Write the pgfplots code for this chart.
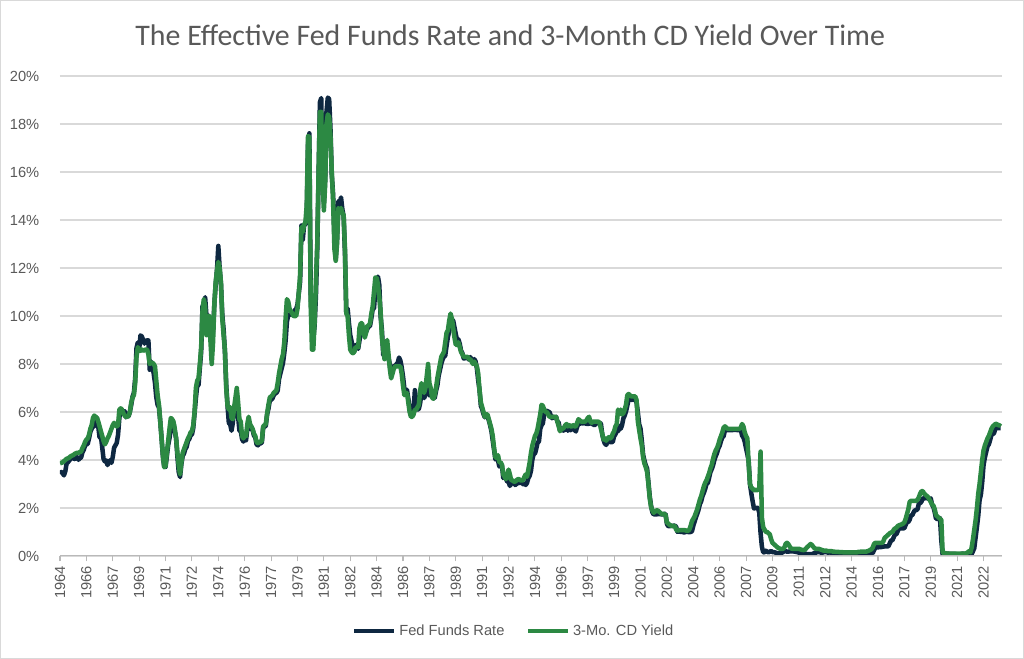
\documentclass[border=0pt]{standalone}
\usepackage{pgfplots}
\pgfplotsset{compat=1.18}
\usepackage{pgfplotstable}
\usepackage{fontspec}
\setmainfont{Liberation Sans}
\newfontfamily\titlefont{Carlito}
\definecolor{fedc}{HTML}{0E2841}
\definecolor{cdc}{HTML}{2C8943}
\definecolor{txt}{HTML}{595959}
\definecolor{gridc}{HTML}{D9D9D9}

% Effective Fed Funds Rate, monthly, Jul 1964 - Dec 2023
\pgfplotstableread[row sep=\\]{
v\\
3.42\\ 3.50\\ 3.45\\ 3.36\\ 3.52\\ 3.85\\
3.90\\ 3.98\\ 4.04\\ 4.09\\ 4.10\\ 4.04\\ 4.09\\ 4.12\\ 4.01\\ 4.08\\ 4.10\\ 4.32\\
4.42\\ 4.60\\ 4.65\\ 4.67\\ 4.90\\ 5.17\\ 5.30\\ 5.53\\ 5.40\\ 5.53\\ 5.76\\ 5.40\\
4.94\\ 5.00\\ 4.53\\ 4.05\\ 3.94\\ 3.98\\ 3.79\\ 3.90\\ 3.99\\ 3.88\\ 4.13\\ 4.51\\
4.61\\ 4.71\\ 5.05\\ 5.76\\ 6.11\\ 6.07\\ 6.02\\ 6.03\\ 5.78\\ 5.91\\ 5.82\\ 6.02\\
6.30\\ 6.64\\ 6.79\\ 7.41\\ 8.67\\ 8.90\\ 8.61\\ 9.19\\ 9.15\\ 9.00\\ 8.85\\ 8.97\\
8.98\\ 8.98\\ 7.76\\ 8.10\\ 7.95\\ 7.61\\ 7.21\\ 6.61\\ 6.29\\ 6.20\\ 5.60\\ 4.90\\
4.14\\ 3.72\\ 3.71\\ 4.16\\ 4.63\\ 4.91\\ 5.31\\ 5.56\\ 5.55\\ 5.20\\ 4.91\\ 4.14\\
3.50\\ 3.29\\ 3.83\\ 4.17\\ 4.27\\ 4.46\\ 4.55\\ 4.80\\ 4.87\\ 5.04\\ 5.06\\ 5.33\\
5.94\\ 6.58\\ 7.09\\ 7.12\\ 7.84\\ 8.49\\ 10.40\\ 10.50\\ 10.78\\ 10.01\\ 10.03\\ 9.95\\
9.65\\ 8.97\\ 9.35\\ 10.51\\ 11.31\\ 11.93\\ 12.92\\ 12.01\\ 11.34\\ 10.06\\ 9.45\\ 8.53\\
7.13\\ 6.24\\ 5.54\\ 5.49\\ 5.22\\ 5.55\\ 6.10\\ 6.14\\ 6.24\\ 5.82\\ 5.22\\ 5.20\\
4.87\\ 4.77\\ 4.84\\ 4.82\\ 5.29\\ 5.48\\ 5.31\\ 5.29\\ 5.25\\ 5.02\\ 4.95\\ 4.65\\
4.61\\ 4.68\\ 4.69\\ 4.73\\ 5.35\\ 5.39\\ 5.42\\ 5.90\\ 6.14\\ 6.47\\ 6.51\\ 6.56\\
6.70\\ 6.78\\ 6.79\\ 6.89\\ 7.36\\ 7.60\\ 7.81\\ 8.04\\ 8.45\\ 8.96\\ 9.76\\ 10.03\\
10.07\\ 10.06\\ 10.09\\ 10.01\\ 10.24\\ 10.29\\ 10.47\\ 10.94\\ 11.43\\ 13.77\\ 13.18\\ 13.78\\
13.82\\ 14.13\\ 17.19\\ 17.61\\ 10.98\\ 9.47\\ 9.03\\ 9.61\\ 10.87\\ 12.81\\ 15.85\\ 18.90\\
19.08\\ 15.93\\ 14.70\\ 15.72\\ 18.52\\ 19.10\\ 19.04\\ 17.82\\ 15.87\\ 15.08\\ 13.31\\ 12.37\\
13.22\\ 14.78\\ 14.68\\ 14.94\\ 14.45\\ 14.15\\ 12.59\\ 10.12\\ 10.31\\ 9.71\\ 9.20\\ 8.95\\
8.68\\ 8.51\\ 8.77\\ 8.80\\ 8.63\\ 8.98\\ 9.37\\ 9.56\\ 9.45\\ 9.48\\ 9.34\\ 9.47\\
9.56\\ 9.59\\ 9.91\\ 10.29\\ 10.32\\ 11.06\\ 11.23\\ 11.64\\ 11.30\\ 9.99\\ 9.43\\ 8.38\\
8.35\\ 8.50\\ 8.58\\ 8.27\\ 7.97\\ 7.53\\ 7.88\\ 7.90\\ 7.92\\ 7.99\\ 8.05\\ 8.27\\
8.14\\ 7.86\\ 7.48\\ 6.99\\ 6.85\\ 6.92\\ 6.56\\ 6.17\\ 5.89\\ 5.85\\ 6.04\\ 6.91\\
6.43\\ 6.10\\ 6.13\\ 6.37\\ 6.85\\ 6.73\\ 6.58\\ 6.73\\ 7.22\\ 7.29\\ 6.69\\ 6.77\\
6.83\\ 6.58\\ 6.58\\ 6.87\\ 7.09\\ 7.51\\ 7.75\\ 8.01\\ 8.19\\ 8.30\\ 8.35\\ 8.76\\
9.12\\ 9.36\\ 9.85\\ 9.84\\ 9.81\\ 9.53\\ 9.24\\ 8.99\\ 9.02\\ 8.84\\ 8.55\\ 8.45\\
8.23\\ 8.24\\ 8.28\\ 8.26\\ 8.18\\ 8.29\\ 8.15\\ 8.13\\ 8.20\\ 8.11\\ 7.81\\ 7.31\\
6.91\\ 6.25\\ 6.12\\ 5.91\\ 5.78\\ 5.90\\ 5.82\\ 5.66\\ 5.45\\ 5.21\\ 4.81\\ 4.43\\
4.03\\ 4.06\\ 3.98\\ 3.73\\ 3.82\\ 3.76\\ 3.25\\ 3.30\\ 3.22\\ 3.10\\ 3.09\\ 2.92\\
3.02\\ 3.03\\ 3.07\\ 2.96\\ 3.00\\ 3.04\\ 3.06\\ 3.03\\ 3.09\\ 2.99\\ 3.02\\ 2.96\\
3.05\\ 3.25\\ 3.34\\ 3.56\\ 4.01\\ 4.25\\ 4.26\\ 4.47\\ 4.73\\ 4.76\\ 5.29\\ 5.45\\
5.53\\ 5.92\\ 5.98\\ 6.05\\ 6.01\\ 6.00\\ 5.85\\ 5.74\\ 5.80\\ 5.76\\ 5.80\\ 5.60\\
5.56\\ 5.22\\ 5.31\\ 5.22\\ 5.24\\ 5.27\\ 5.40\\ 5.22\\ 5.30\\ 5.24\\ 5.31\\ 5.29\\
5.25\\ 5.19\\ 5.39\\ 5.51\\ 5.50\\ 5.56\\ 5.52\\ 5.54\\ 5.54\\ 5.50\\ 5.52\\ 5.50\\
5.56\\ 5.51\\ 5.49\\ 5.45\\ 5.49\\ 5.56\\ 5.54\\ 5.55\\ 5.51\\ 5.07\\ 4.83\\ 4.68\\
4.63\\ 4.76\\ 4.81\\ 4.74\\ 4.74\\ 4.76\\ 4.99\\ 5.07\\ 5.22\\ 5.20\\ 5.42\\ 5.30\\
5.45\\ 5.73\\ 5.85\\ 6.02\\ 6.27\\ 6.53\\ 6.54\\ 6.50\\ 6.52\\ 6.51\\ 6.51\\ 6.40\\
5.98\\ 5.49\\ 5.31\\ 4.80\\ 4.21\\ 3.97\\ 3.77\\ 3.65\\ 3.07\\ 2.49\\ 2.09\\ 1.82\\
1.73\\ 1.74\\ 1.73\\ 1.75\\ 1.75\\ 1.75\\ 1.73\\ 1.74\\ 1.75\\ 1.75\\ 1.34\\ 1.24\\
1.24\\ 1.26\\ 1.25\\ 1.26\\ 1.26\\ 1.22\\ 1.01\\ 1.03\\ 1.01\\ 1.01\\ 1.00\\ 0.98\\
1.00\\ 1.01\\ 1.00\\ 1.00\\ 1.00\\ 1.03\\ 1.26\\ 1.43\\ 1.61\\ 1.76\\ 1.93\\ 2.16\\
2.28\\ 2.50\\ 2.63\\ 2.79\\ 3.00\\ 3.04\\ 3.26\\ 3.50\\ 3.62\\ 3.78\\ 4.00\\ 4.16\\
4.29\\ 4.49\\ 4.59\\ 4.79\\ 4.94\\ 4.99\\ 5.24\\ 5.25\\ 5.25\\ 5.25\\ 5.25\\ 5.24\\
5.25\\ 5.26\\ 5.26\\ 5.25\\ 5.25\\ 5.25\\ 5.26\\ 5.02\\ 4.94\\ 4.76\\ 4.49\\ 4.24\\
3.94\\ 2.98\\ 2.61\\ 2.28\\ 1.98\\ 2.00\\ 2.01\\ 2.00\\ 1.81\\ 0.97\\ 0.39\\ 0.16\\
0.15\\ 0.22\\ 0.18\\ 0.15\\ 0.18\\ 0.21\\ 0.16\\ 0.16\\ 0.15\\ 0.12\\ 0.12\\ 0.12\\
0.11\\ 0.13\\ 0.16\\ 0.20\\ 0.20\\ 0.18\\ 0.18\\ 0.19\\ 0.19\\ 0.19\\ 0.19\\ 0.18\\
0.17\\ 0.16\\ 0.14\\ 0.10\\ 0.09\\ 0.09\\ 0.07\\ 0.10\\ 0.08\\ 0.07\\ 0.08\\ 0.07\\
0.08\\ 0.10\\ 0.13\\ 0.14\\ 0.16\\ 0.16\\ 0.16\\ 0.13\\ 0.14\\ 0.16\\ 0.16\\ 0.16\\
0.14\\ 0.15\\ 0.14\\ 0.15\\ 0.11\\ 0.09\\ 0.09\\ 0.08\\ 0.08\\ 0.09\\ 0.08\\ 0.09\\
0.07\\ 0.07\\ 0.08\\ 0.09\\ 0.09\\ 0.10\\ 0.09\\ 0.09\\ 0.09\\ 0.09\\ 0.09\\ 0.12\\
0.11\\ 0.11\\ 0.11\\ 0.12\\ 0.12\\ 0.13\\ 0.13\\ 0.14\\ 0.14\\ 0.12\\ 0.12\\ 0.24\\
0.34\\ 0.38\\ 0.36\\ 0.37\\ 0.37\\ 0.38\\ 0.39\\ 0.40\\ 0.40\\ 0.40\\ 0.41\\ 0.54\\
0.65\\ 0.66\\ 0.79\\ 0.90\\ 0.91\\ 1.04\\ 1.15\\ 1.16\\ 1.15\\ 1.15\\ 1.16\\ 1.30\\
1.41\\ 1.42\\ 1.51\\ 1.69\\ 1.70\\ 1.82\\ 1.91\\ 1.91\\ 1.95\\ 2.19\\ 2.20\\ 2.27\\
2.40\\ 2.40\\ 2.41\\ 2.42\\ 2.39\\ 2.38\\ 2.40\\ 2.13\\ 2.04\\ 1.83\\ 1.55\\ 1.55\\
1.55\\ 1.58\\ 0.65\\ 0.05\\ 0.05\\ 0.08\\ 0.09\\ 0.10\\ 0.09\\ 0.09\\ 0.09\\ 0.09\\
0.09\\ 0.08\\ 0.07\\ 0.07\\ 0.06\\ 0.08\\ 0.10\\ 0.09\\ 0.08\\ 0.08\\ 0.08\\ 0.08\\
0.08\\ 0.08\\ 0.20\\ 0.33\\ 0.77\\ 1.21\\ 1.68\\ 2.33\\ 2.56\\ 3.08\\ 3.78\\ 4.10\\
4.33\\ 4.57\\ 4.65\\ 4.83\\ 5.06\\ 5.08\\ 5.12\\ 5.33\\ 5.33\\ 5.33\\ 5.33\\ 5.33\\
}\fedtab

% 3-Month CD yield, monthly, Jul 1964 - Dec 2023
\pgfplotstableread[row sep=\\]{
v\\
3.86\\ 3.88\\ 3.90\\ 3.95\\ 4.00\\ 4.05\\
4.07\\ 4.10\\ 4.15\\ 4.18\\ 4.20\\ 4.25\\ 4.28\\ 4.30\\ 4.30\\ 4.33\\ 4.35\\ 4.50\\
4.60\\ 4.75\\ 4.85\\ 4.90\\ 5.05\\ 5.30\\ 5.45\\ 5.75\\ 5.85\\ 5.80\\ 5.75\\ 5.60\\
5.40\\ 5.20\\ 5.00\\ 4.80\\ 4.65\\ 4.75\\ 4.90\\ 5.00\\ 5.15\\ 5.30\\ 5.45\\ 5.55\\
5.45\\ 5.40\\ 5.45\\ 6.10\\ 6.15\\ 6.10\\ 5.95\\ 5.85\\ 5.80\\ 5.80\\ 5.85\\ 6.00\\
6.40\\ 6.60\\ 6.70\\ 7.20\\ 8.30\\ 8.70\\ 8.60\\ 8.55\\ 8.60\\ 8.55\\ 8.58\\ 8.60\\
8.60\\ 8.40\\ 8.00\\ 8.05\\ 8.05\\ 8.00\\ 7.90\\ 7.30\\ 6.70\\ 6.30\\ 5.60\\ 4.90\\
4.20\\ 3.70\\ 3.75\\ 4.30\\ 4.80\\ 5.30\\ 5.75\\ 5.70\\ 5.60\\ 5.30\\ 4.90\\ 4.30\\
3.75\\ 3.40\\ 3.90\\ 4.30\\ 4.45\\ 4.60\\ 4.75\\ 4.90\\ 5.00\\ 5.15\\ 5.20\\ 5.45\\
6.00\\ 7.00\\ 7.30\\ 7.40\\ 8.00\\ 8.70\\ 10.20\\ 10.70\\ 10.40\\ 9.20\\ 9.60\\ 10.00\\
9.00\\ 8.00\\ 8.90\\ 10.50\\ 11.40\\ 11.90\\ 12.25\\ 12.00\\ 11.40\\ 9.90\\ 9.20\\ 8.60\\
7.00\\ 6.25\\ 6.10\\ 6.20\\ 5.75\\ 5.70\\ 6.20\\ 6.60\\ 7.00\\ 6.40\\ 5.70\\ 5.60\\
5.00\\ 4.90\\ 5.00\\ 5.00\\ 5.50\\ 5.80\\ 5.50\\ 5.40\\ 5.30\\ 5.10\\ 5.00\\ 4.75\\
4.70\\ 4.75\\ 4.75\\ 4.80\\ 5.40\\ 5.45\\ 5.50\\ 5.95\\ 6.30\\ 6.60\\ 6.65\\ 6.70\\
6.80\\ 6.85\\ 6.90\\ 7.20\\ 7.60\\ 7.90\\ 8.20\\ 8.40\\ 8.90\\ 9.90\\ 10.70\\ 10.60\\
10.30\\ 10.20\\ 10.10\\ 10.00\\ 10.00\\ 10.00\\ 10.30\\ 11.00\\ 11.70\\ 13.70\\ 13.50\\ 13.80\\
13.90\\ 14.60\\ 17.50\\ 17.45\\ 10.50\\ 8.60\\ 8.60\\ 9.80\\ 11.50\\ 13.00\\ 16.00\\ 18.50\\
18.50\\ 15.80\\ 14.40\\ 15.50\\ 18.00\\ 18.40\\ 18.30\\ 17.50\\ 16.00\\ 14.80\\ 12.80\\ 12.30\\
13.00\\ 14.50\\ 14.40\\ 14.50\\ 14.30\\ 14.20\\ 12.80\\ 10.10\\ 10.00\\ 9.20\\ 8.60\\ 8.50\\
8.45\\ 8.50\\ 8.70\\ 8.70\\ 8.70\\ 9.50\\ 9.70\\ 9.70\\ 9.30\\ 9.10\\ 9.30\\ 9.60\\
9.60\\ 9.70\\ 10.10\\ 10.40\\ 11.00\\ 11.60\\ 11.60\\ 11.30\\ 10.80\\ 10.20\\ 9.10\\ 8.60\\
8.20\\ 8.80\\ 9.00\\ 8.40\\ 7.80\\ 7.40\\ 7.60\\ 7.80\\ 7.90\\ 7.90\\ 7.90\\ 7.90\\
7.90\\ 7.60\\ 7.10\\ 6.70\\ 6.80\\ 6.80\\ 6.40\\ 6.00\\ 5.80\\ 5.80\\ 5.90\\ 6.10\\
6.10\\ 6.20\\ 6.30\\ 6.90\\ 7.20\\ 7.00\\ 6.80\\ 7.00\\ 7.50\\ 8.00\\ 7.20\\ 7.00\\
6.60\\ 6.55\\ 6.70\\ 7.00\\ 7.40\\ 7.70\\ 8.00\\ 8.30\\ 8.40\\ 8.50\\ 8.90\\ 9.30\\
9.40\\ 9.80\\ 10.10\\ 9.90\\ 9.50\\ 9.10\\ 8.80\\ 8.80\\ 8.90\\ 8.70\\ 8.50\\ 8.40\\
8.30\\ 8.30\\ 8.30\\ 8.30\\ 8.20\\ 8.20\\ 8.10\\ 8.00\\ 8.10\\ 8.00\\ 7.90\\ 7.60\\
6.90\\ 6.40\\ 6.20\\ 6.00\\ 5.80\\ 5.90\\ 5.90\\ 5.70\\ 5.50\\ 5.30\\ 5.00\\ 4.50\\
4.10\\ 4.10\\ 4.20\\ 3.90\\ 3.90\\ 3.80\\ 3.40\\ 3.30\\ 3.20\\ 3.40\\ 3.60\\ 3.40\\
3.15\\ 3.15\\ 3.10\\ 3.10\\ 3.15\\ 3.20\\ 3.20\\ 3.15\\ 3.15\\ 3.15\\ 3.30\\ 3.40\\
3.30\\ 3.60\\ 3.90\\ 4.30\\ 4.60\\ 4.80\\ 5.00\\ 5.10\\ 5.30\\ 5.60\\ 5.90\\ 6.30\\
6.25\\ 6.10\\ 6.00\\ 6.00\\ 5.90\\ 5.80\\ 5.80\\ 5.80\\ 5.80\\ 5.80\\ 5.80\\ 5.60\\
5.40\\ 5.20\\ 5.30\\ 5.30\\ 5.35\\ 5.45\\ 5.50\\ 5.40\\ 5.45\\ 5.40\\ 5.40\\ 5.45\\
5.40\\ 5.40\\ 5.55\\ 5.70\\ 5.65\\ 5.60\\ 5.60\\ 5.60\\ 5.60\\ 5.65\\ 5.75\\ 5.80\\
5.60\\ 5.55\\ 5.60\\ 5.60\\ 5.60\\ 5.60\\ 5.60\\ 5.55\\ 5.30\\ 5.10\\ 4.85\\ 4.90\\
4.80\\ 4.90\\ 4.95\\ 4.90\\ 4.95\\ 5.10\\ 5.20\\ 5.40\\ 5.50\\ 6.10\\ 5.90\\ 6.10\\
5.90\\ 5.95\\ 6.10\\ 6.30\\ 6.70\\ 6.75\\ 6.70\\ 6.65\\ 6.65\\ 6.65\\ 6.65\\ 6.50\\
5.60\\ 5.25\\ 4.90\\ 4.60\\ 4.10\\ 3.85\\ 3.70\\ 3.50\\ 3.00\\ 2.40\\ 2.05\\ 1.90\\
1.80\\ 1.85\\ 1.90\\ 1.90\\ 1.85\\ 1.80\\ 1.75\\ 1.75\\ 1.75\\ 1.70\\ 1.40\\ 1.35\\
1.30\\ 1.27\\ 1.25\\ 1.25\\ 1.25\\ 1.10\\ 1.05\\ 1.08\\ 1.08\\ 1.08\\ 1.08\\ 1.08\\
1.07\\ 1.05\\ 1.05\\ 1.10\\ 1.25\\ 1.45\\ 1.55\\ 1.65\\ 1.80\\ 1.95\\ 2.15\\ 2.35\\
2.50\\ 2.70\\ 2.90\\ 3.05\\ 3.15\\ 3.30\\ 3.45\\ 3.65\\ 3.80\\ 4.05\\ 4.25\\ 4.40\\
4.50\\ 4.65\\ 4.85\\ 5.00\\ 5.15\\ 5.35\\ 5.40\\ 5.35\\ 5.30\\ 5.30\\ 5.30\\ 5.30\\
5.30\\ 5.30\\ 5.30\\ 5.30\\ 5.30\\ 5.30\\ 5.35\\ 5.50\\ 5.40\\ 5.15\\ 5.00\\ 4.90\\
3.80\\ 3.00\\ 2.85\\ 2.80\\ 2.75\\ 2.75\\ 2.75\\ 2.75\\ 2.80\\ 4.35\\ 1.60\\ 1.20\\
1.10\\ 1.00\\ 1.00\\ 0.95\\ 0.90\\ 0.70\\ 0.55\\ 0.50\\ 0.45\\ 0.40\\ 0.35\\ 0.32\\
0.30\\ 0.30\\ 0.30\\ 0.35\\ 0.50\\ 0.55\\ 0.50\\ 0.40\\ 0.32\\ 0.30\\ 0.30\\ 0.30\\
0.30\\ 0.30\\ 0.30\\ 0.28\\ 0.26\\ 0.25\\ 0.25\\ 0.28\\ 0.35\\ 0.40\\ 0.45\\ 0.50\\
0.45\\ 0.38\\ 0.32\\ 0.30\\ 0.30\\ 0.30\\ 0.28\\ 0.26\\ 0.24\\ 0.22\\ 0.22\\ 0.22\\
0.20\\ 0.20\\ 0.20\\ 0.20\\ 0.18\\ 0.18\\ 0.17\\ 0.17\\ 0.17\\ 0.16\\ 0.16\\ 0.16\\
0.15\\ 0.15\\ 0.15\\ 0.15\\ 0.15\\ 0.15\\ 0.15\\ 0.15\\ 0.15\\ 0.15\\ 0.15\\ 0.17\\
0.17\\ 0.18\\ 0.18\\ 0.18\\ 0.18\\ 0.18\\ 0.20\\ 0.22\\ 0.25\\ 0.28\\ 0.35\\ 0.50\\
0.55\\ 0.55\\ 0.55\\ 0.55\\ 0.55\\ 0.55\\ 0.60\\ 0.75\\ 0.80\\ 0.85\\ 0.90\\ 0.95\\
0.98\\ 1.00\\ 1.10\\ 1.15\\ 1.18\\ 1.25\\ 1.28\\ 1.30\\ 1.32\\ 1.35\\ 1.40\\ 1.55\\
1.75\\ 1.95\\ 2.25\\ 2.30\\ 2.30\\ 2.30\\ 2.30\\ 2.30\\ 2.35\\ 2.45\\ 2.60\\ 2.70\\
2.70\\ 2.60\\ 2.55\\ 2.50\\ 2.45\\ 2.35\\ 2.25\\ 2.15\\ 2.10\\ 1.95\\ 1.70\\ 1.65\\
1.60\\ 1.55\\ 1.50\\ 0.15\\ 0.12\\ 0.12\\ 0.10\\ 0.10\\ 0.10\\ 0.10\\ 0.10\\ 0.10\\
0.10\\ 0.10\\ 0.10\\ 0.10\\ 0.10\\ 0.10\\ 0.10\\ 0.10\\ 0.10\\ 0.12\\ 0.15\\ 0.20\\
0.15\\ 0.35\\ 0.70\\ 1.10\\ 1.50\\ 2.00\\ 2.60\\ 3.00\\ 3.50\\ 4.00\\ 4.40\\ 4.60\\
4.75\\ 4.90\\ 5.00\\ 5.15\\ 5.30\\ 5.40\\ 5.45\\ 5.50\\ 5.50\\ 5.45\\ 5.45\\ 5.40\\
}\cdtab

\begin{document}
\begin{tikzpicture}
\begin{axis}[
  scale only axis, width=706.5pt, height=360pt,
  xmin=0, xmax=714, ymin=0, ymax=20,
  axis line style={draw=none},
  xtick={0,20,...,700},
  xticklabels={1964,1966,1967,1969,1971,1972,1974,1976,1977,1979,1981,1982,1984,1986,1987,1989,1991,1992,1994,1996,1997,1999,2001,2002,2004,2006,2007,2009,2011,2012,2014,2016,2017,2019,2021,2022},
  xtick pos=bottom, tick align=outside,
  major tick length=4pt,
  xtick style={draw=gray!55, line width=0.8pt},
  ytick={0,2,...,20},
  ytick style={draw=none},
  ymajorgrids, grid style={gridc, line width=1pt},
  yticklabel={\pgfmathprintnumber{\tick}\%},
  /pgf/number format/assume math mode=true,
  tick label style={font=\fontsize{11}{13}\selectfont, text=txt},
  xticklabel style={rotate=90, anchor=east},
  yticklabel style={anchor=east, xshift=-8pt},
  legend style={at={(0.482,-0.156)}, anchor=center, draw=none, fill=none,
    legend columns=2, font=\fontsize{11}{13}\selectfont, text=txt,
    /tikz/every even column/.append style={column sep=14pt}},
  legend image code/.code={\draw[#1, line width=3.4pt] (0pt,0pt) -- (30pt,0pt);},
  line join=round,
]
\addplot[fedc, line width=3.4pt, line join=round] table[x expr=\coordindex, y=v] {\fedtab};
\addlegendentry{Fed Funds Rate}
\addplot[cdc, line width=3.4pt, line join=round] table[x expr=\coordindex, y=v] {\cdtab};
\addlegendentry{3-Mo. CD Yield}
\draw[gray!55, line width=0.8pt] (rel axis cs:0,0) -- (rel axis cs:1,0);
\coordinate (fsw) at ([shift={(-45pt,-77.25pt)}]rel axis cs:0,0);
\coordinate (fne) at ([shift={(16.5pt,57pt)}]rel axis cs:1,1);
\coordinate (ttl) at ([yshift=30.75pt]rel axis cs:0.478,1);
\end{axis}
\node[font=\titlefont\fontsize{22.4}{27}\selectfont, text=txt] at (ttl) {The Effective Fed Funds Rate and 3-Month CD Yield Over Time};
\pgfresetboundingbox
\draw[gridc, line width=1pt] ([shift={(0.5pt,0.5pt)}]fsw) rectangle ([shift={(-0.5pt,-0.5pt)}]fne);
\end{tikzpicture}
\end{document}
